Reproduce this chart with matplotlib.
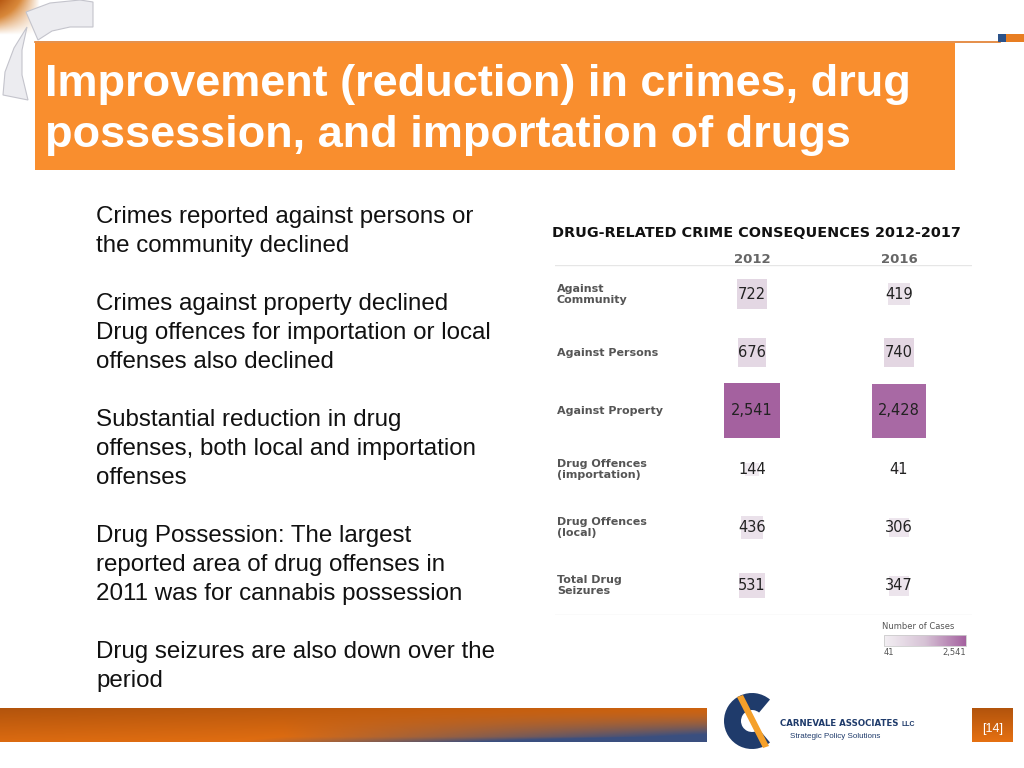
import numpy as np
import matplotlib
matplotlib.use("Agg")
import matplotlib.pyplot as plt
from matplotlib.colors import LinearSegmentedColormap
from matplotlib.patches import Rectangle, Wedge, Polygon

# ---- data ----
title = "Improvement (reduction) in crimes, drug\npossession, and importation of drugs"
bullets = [
    ["Crimes reported against persons or", "the community declined"],
    ["Crimes against property declined", "Drug offences for importation or local", "offenses also declined"],
    ["Substantial reduction in drug", "offenses, both local and importation", "offenses"],
    ["Drug Possession: The largest", "reported area of drug offenses in", "2011 was for cannabis possession"],
    ["Drug seizures are also down over the", "period"],
]
table_title = "DRUG-RELATED CRIME CONSEQUENCES 2012-2017"
years = ["2012", "2016"]
categories = ["Against\nCommunity", "Against Persons", "Against Property",
              "Drug Offences\n(importation)", "Drug Offences\n(local)", "Total Drug\nSeizures"]
cases_2012 = [722, 676, 2541, 144, 436, 531]
cases_2016 = [419, 740, 2428, 41, 306, 347]

plt.rcParams["font.family"] = ["Liberation Sans", "DejaVu Sans"]
table_font = ["DejaVu Sans"]

fig = plt.figure(figsize=(10.24, 7.68), dpi=100)
bg = fig.add_axes([0, 0, 1, 1])
bg.set_xlim(0, 1024)
bg.set_ylim(768, 0)
bg.axis("off")

# top-left decoration (logo fragments behind the header)
corner = np.linspace(0, 1, 60)
cg = np.outer(1 - corner, 1 - corner)
corner_cmap = LinearSegmentedColormap.from_list("corner", ["#ffffff", "#d8883a", "#b85a14"])
bg.imshow(cg, extent=(0, 40, 35, 0), cmap=corner_cmap, zorder=1, aspect="auto")
deco = dict(facecolor="#ececf0", edgecolor="#c4c4cc", lw=0.8, zorder=2)
bg.add_patch(Polygon([[26, 12], [50, 3], [80, 0], [93, 2], [93, 27], [70, 27], [52, 31], [38, 40]], **deco))
bg.add_patch(Polygon([[27, 27], [14, 48], [5, 72], [3, 95], [28, 100], [22, 75], [22, 50]], **deco))

# header bar
bg.plot([35, 1000], [42, 42], color="#e07b2a", lw=1.2, zorder=3)
bg.add_patch(Rectangle((998, 34), 8, 8, facecolor="#2b5289", zorder=3))
bg.add_patch(Rectangle((1006, 34), 18, 8, facecolor="#e87e22", zorder=3))
bg.add_patch(Rectangle((35, 43), 920, 127, facecolor="#f98e2e", edgecolor="none", zorder=4))
bg.text(45, 110, title, color="white", fontsize=32.5, fontweight="bold",
        va="center", ha="left", linespacing=1.34, zorder=5)

# bullet text
y = 217
for para in bullets:
    for line in para:
        bg.text(96, y, line, fontsize=17.4, color="#111111", va="center", ha="left")
        y += 29
    y += 29

# footer gradient bar
h, w = 40, 400
xx, yy = np.meshgrid(np.linspace(0, 1, w), np.linspace(0, 1, h))
dark = np.array([0.70, 0.33, 0.05])
bright = np.array([0.90, 0.44, 0.07])
blue = np.array([0.23, 0.31, 0.50])
t = np.clip(0.5 * xx + 0.8 * yy - 0.2 * xx * yy, 0, 1)[..., None]
img = dark * (1 - t) + bright * t
b = np.clip((xx - 0.4) * 2.4 * yy ** 1.5 + np.clip(yy - 0.85, 0, 1) * 3 * xx, 0, 1)[..., None]
img = img * (1 - b) + blue * b
bg.imshow(img, extent=(0, 707, 742, 708), aspect="auto", zorder=2)
box = dark * (1 - yy[:, :60, None]) + bright * yy[:, :60, None]
bg.imshow(box, extent=(972, 1013, 742, 708), aspect="auto", zorder=2)
bg.text(993, 729, "[14]", color="white", fontsize=9, ha="center", va="center", zorder=3)

# logo
bg.add_patch(Wedge((752, 721), 28, 50, 310, width=17, facecolor="#1f3b6b", zorder=3))
bg.add_patch(Polygon([[737, 697], [743, 695], [769, 746], [763, 748]], closed=True,
                     facecolor="#f5a02a", zorder=4))
bg.text(780, 723, "CARNEVALE ASSOCIATES", color="#1f3b6b", fontsize=6.2, fontweight="bold",
        family=["DejaVu Sans"], ha="left", va="center", zorder=5)
bg.text(901, 724, "LLC", color="#1f3b6b", fontsize=5, fontweight="bold", ha="left", va="center", zorder=5)
bg.text(790, 737, "Strategic Policy Solutions", color="#1f3b6b", fontsize=5.8, ha="left", va="center", zorder=5)

# heatmap table
fig_w, fig_h = 1024, 768
x0, x1, y0, y1 = 555, 972, 265, 615
ax = fig.add_axes([x0 / fig_w, 1 - y1 / fig_h, (x1 - x0) / fig_w, (y1 - y0) / fig_h])
ax.set_xlim(-1.340, 1.497)
ax.set_ylim(5.5, -0.5)
ax.axis("off")

cmap = LinearSegmentedColormap.from_list("purp", ["#f3eff3", "#d6c2d5", "#a4619f"])
rows = np.arange(len(categories))
vals = np.array([cases_2012, cases_2016])
vmin, vmax = vals.min(), vals.max()
for j, col in enumerate(vals):
    sc = ax.scatter(np.full(len(rows), j), rows, s=col * 0.62, c=col, cmap=cmap,
                    vmin=vmin, vmax=vmax, marker="s", linewidths=0, zorder=2)
    for r, v in zip(rows, col):
        ax.text(j, r, f"{v:,}", ha="center", va="center", fontsize=10.5,
                family=table_font, color="#222222", zorder=3)
    ax.text(j, -0.6, years[j], ha="center", va="center", fontsize=9.5, fontweight="bold",
            family=table_font, color="#666666", clip_on=False)
for r, name in zip(rows, categories):
    ax.text(-1.327, r, name, ha="left", va="center", fontsize=8, fontweight="bold",
            family=table_font, color="#555555", linespacing=1.15)
ax.axhline(-0.5, color="#e6e6e6", lw=1)
ax.axhline(5.5, color="#e6e6e6", lw=1)
ax.text(-1.36, -1.05, table_title, ha="left", va="center", fontsize=10.4, fontweight="bold",
        family=table_font, color="#111111", clip_on=False)

# colour legend
cax = fig.add_axes([884 / fig_w, 1 - 646 / fig_h, 82 / fig_w, 11 / fig_h])
cb = fig.colorbar(sc, cax=cax, orientation="horizontal")
cb.outline.set_edgecolor("#cccccc")
cb.outline.set_linewidth(0.6)
cb.set_ticks([])
cax.text(0, -0.6, "41", transform=cax.transAxes, ha="left", va="center", fontsize=6,
         color="#555555", family=table_font)
cax.text(1, -0.6, "2,541", transform=cax.transAxes, ha="right", va="center", fontsize=6,
         color="#555555", family=table_font)
cax.text(-0.02, 1.75, "Number of Cases", transform=cax.transAxes, ha="left", va="center",
         fontsize=6, color="#555555", family=table_font)

fig.savefig("out.png", dpi=100)
